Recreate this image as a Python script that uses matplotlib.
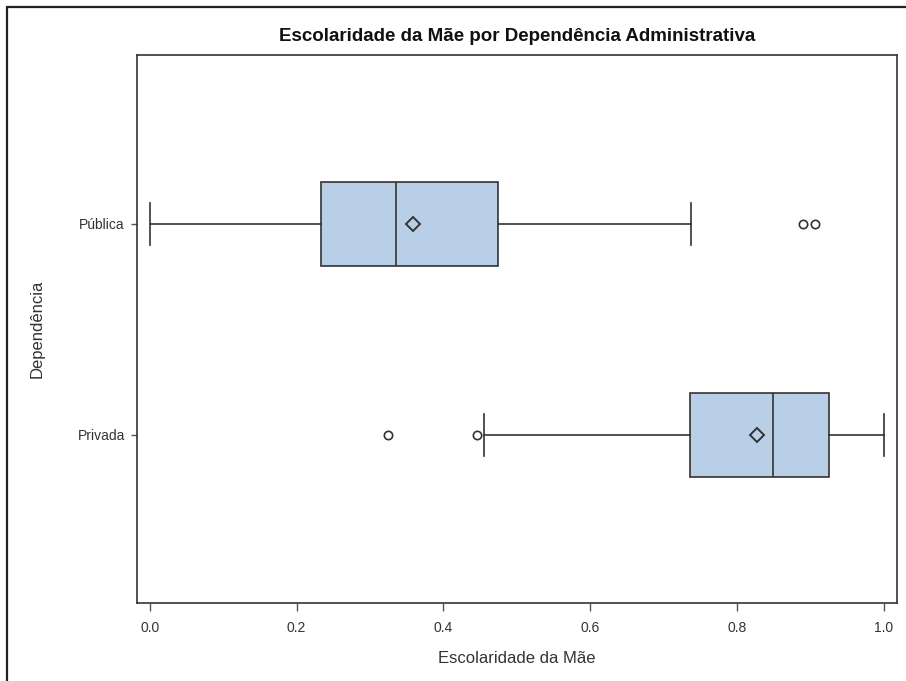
import matplotlib
matplotlib.use("Agg")
import matplotlib.pyplot as plt
from matplotlib.patches import Rectangle

# Resumo por grupo (quartis, mediana, média, bigodes e outliers)
grupos = ["Privada", "Pública"]
q1 = [0.736, 0.233]
mediana = [0.849, 0.336]
q3 = [0.925, 0.475]
media = [0.827, 0.359]
bigode_inf = [0.455, 0.0]
bigode_sup = [1.0, 0.737]
outliers = [[0.325, 0.446], [0.890, 0.906]]

EDGE = "#333333"
FILL = "#B9CFE7"

plt.rcParams["font.family"] = ["Liberation Sans", "DejaVu Sans"]

fig = plt.figure(figsize=(9.06, 6.81), dpi=100)
ax = fig.add_axes([0.1509, 0.1141, 0.8388, 0.8047])

# moldura externa do gráfico
fig.add_artist(Rectangle((7 / 906, -0.05), 1.2, 1 - 7 / 681 + 0.05,
                         transform=fig.transFigure, fill=False,
                         edgecolor="#222222", linewidth=1.6))

stats = []
for i, g in enumerate(grupos):
    stats.append(dict(label=g, q1=q1[i], med=mediana[i], q3=q3[i],
                      mean=media[i], whislo=bigode_inf[i], whishi=bigode_sup[i],
                      fliers=outliers[i]))

ax.bxp(stats, positions=[0, 1], vert=False, widths=0.4, patch_artist=True,
       showmeans=True, showcaps=True,
       boxprops=dict(facecolor=FILL, edgecolor=EDGE, linewidth=1.2),
       medianprops=dict(color=EDGE, linewidth=1.2),
       whiskerprops=dict(color=EDGE, linewidth=1.2),
       capprops=dict(color=EDGE, linewidth=1.2),
       capwidths=0.2,
       meanprops=dict(marker="D", markerfacecolor="none", markeredgecolor=EDGE,
                      markersize=7, markeredgewidth=1.4),
       flierprops=dict(marker="o", markerfacecolor="none", markeredgecolor=EDGE,
                       markersize=6, markeredgewidth=1.2))

ax.set_xlim(-0.0177, 1.0173)
ax.set_ylim(-0.8, 1.8)
ax.set_xticks([0.0, 0.2, 0.4, 0.6, 0.8, 1.0])
ax.set_xticklabels(["0.0", "0.2", "0.4", "0.6", "0.8", "1.0"])
ax.set_yticks([0, 1])
ax.set_yticklabels(grupos)

for s in ax.spines.values():
    s.set_color(EDGE)
    s.set_linewidth(1.2)
ax.tick_params(axis="x", length=6, width=1, color="#555555", labelsize=10,
               labelcolor="#333333", pad=7)
ax.tick_params(axis="y", length=4.5, width=1, color="#555555", labelsize=10,
               labelcolor="#333333", pad=4)

ax.set_xlabel("Escolaridade da Mãe", fontsize=12, color="#333333", labelpad=11)
ax.set_ylabel("Dependência", fontsize=12, color="#333333", labelpad=24)
ax.set_title("Escolaridade da Mãe por Dependência Administrativa",
             fontsize=13.5, fontweight="bold", color="#111111", pad=10)

fig.savefig("out.png", dpi=100, facecolor="white")
